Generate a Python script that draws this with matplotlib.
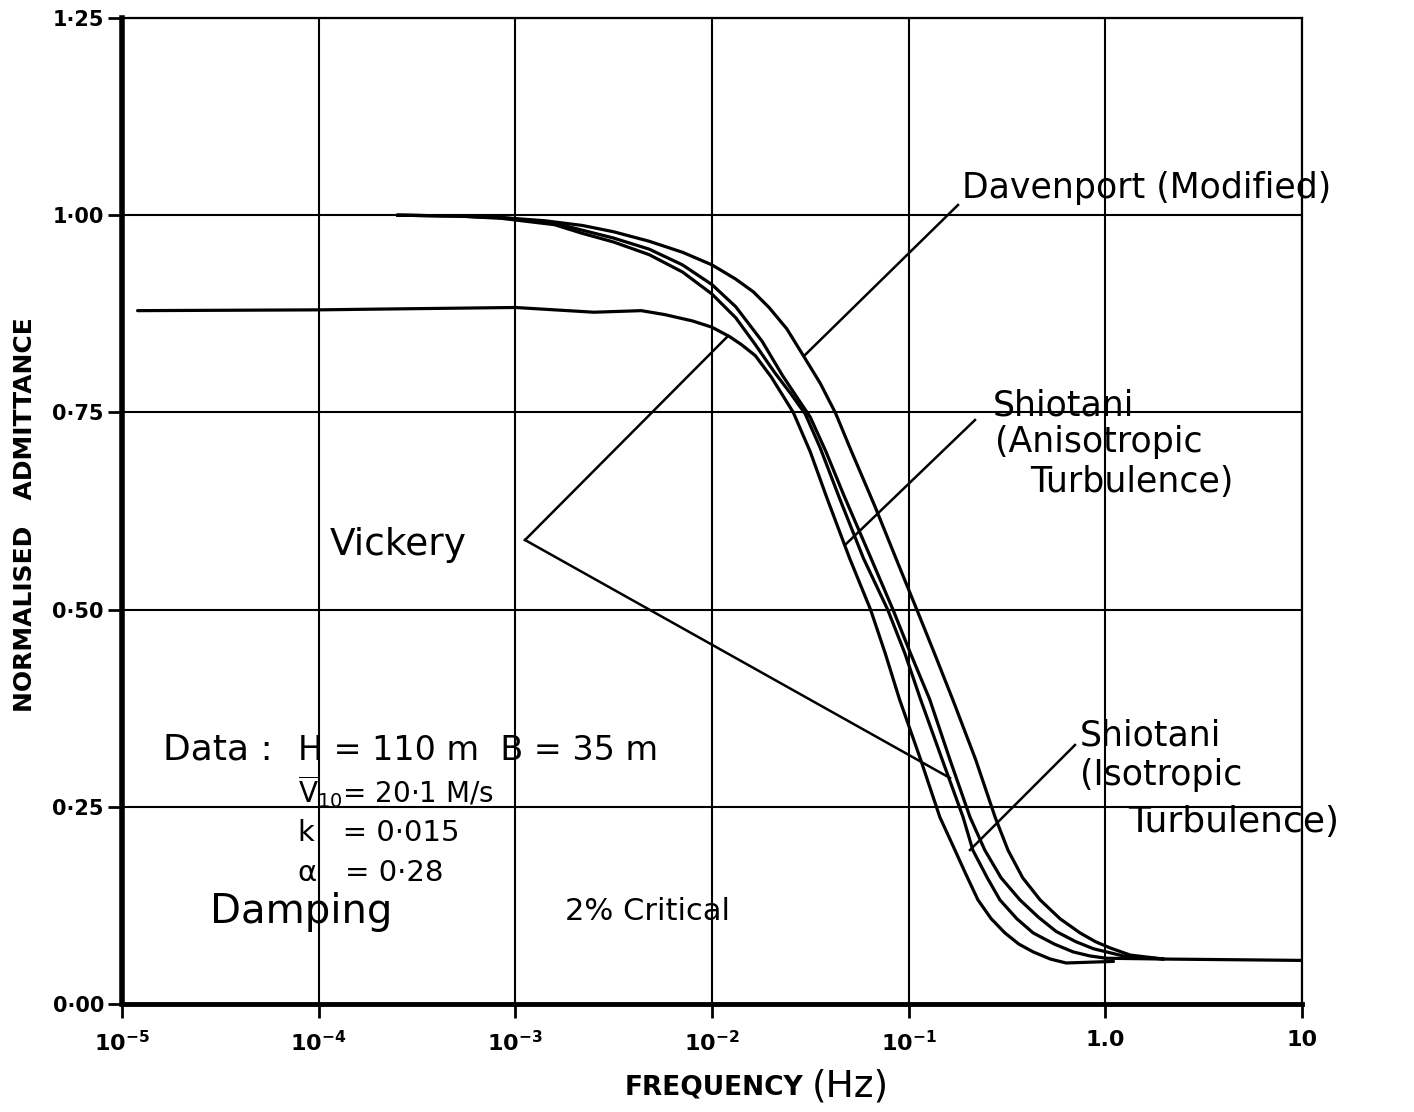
import matplotlib
matplotlib.use("Agg")
import matplotlib.pyplot as plt
from matplotlib.lines import Line2D

# ---------------- data ----------------
davenport_f = [2.51e-4, 5.01e-4, 8.51e-4, 1.41e-3, 2.19e-3, 3.16e-3, 4.79e-3, 7.08e-3, 1.0e-2,
               1.32e-2, 1.62e-2, 1.95e-2, 2.40e-2, 2.88e-2, 3.55e-2, 4.25e-2, 5.01e-2, 6.76e-2,
               8.91e-2, 0.110, 0.135, 0.1675, 0.219, 0.275, 0.320, 0.380, 0.466, 0.589, 0.745,
               0.891, 1.06, 1.34, 1.98, 12.9]
davenport_v = [1.0, 0.999, 0.997, 0.993, 0.987, 0.979, 0.967, 0.953, 0.937,
               0.919, 0.903, 0.883, 0.856, 0.824, 0.787, 0.749, 0.706, 0.630,
               0.556, 0.500, 0.445, 0.386, 0.310, 0.237, 0.195, 0.160, 0.132, 0.108, 0.090,
               0.079, 0.071, 0.062, 0.057, 0.055]

shiotani_aniso_f = [2.51e-4, 5.01e-4, 8.51e-4, 1.58e-3, 2.19e-3, 3.16e-3, 4.79e-3, 7.08e-3, 1.0e-2,
                    1.32e-2, 1.80e-2, 2.28e-2, 2.69e-2, 3.16e-2, 3.80e-2, 4.68e-2, 6.31e-2, 8.32e-2,
                    0.102, 0.128, 0.162, 0.205, 0.244, 0.295, 0.368, 0.457, 0.562, 0.708, 0.871,
                    1.23, 1.98]
shiotani_aniso_v = [1.0, 0.999, 0.997, 0.990, 0.981, 0.971, 0.957, 0.937, 0.912,
                    0.884, 0.840, 0.797, 0.770, 0.744, 0.700, 0.645, 0.570, 0.500,
                    0.445, 0.386, 0.310, 0.237, 0.195, 0.160, 0.132, 0.110, 0.092, 0.079, 0.070,
                    0.061, 0.057]

shiotani_iso_f = [2.51e-4, 5.01e-4, 8.51e-4, 1.58e-3, 2.19e-3, 3.16e-3, 4.79e-3, 7.08e-3, 1.0e-2,
                  1.32e-2, 1.66e-2, 2.09e-2, 2.51e-2, 2.98e-2, 3.55e-2, 4.47e-2, 5.89e-2, 7.82e-2,
                  9.55e-2, 0.115, 0.148, 0.189, 0.212, 0.251, 0.291, 0.355, 0.430, 0.550, 0.687,
                  0.832, 1.01, 1.98]
shiotani_iso_v = [1.0, 0.999, 0.996, 0.988, 0.977, 0.966, 0.950, 0.928, 0.900,
                  0.870, 0.836, 0.800, 0.774, 0.748, 0.705, 0.640, 0.565, 0.500,
                  0.445, 0.386, 0.310, 0.237, 0.195, 0.160, 0.132, 0.108, 0.090, 0.076, 0.066,
                  0.061, 0.058, 0.057]

vickery_f = [1.2e-5, 1e-4, 2.09e-4, 1e-3, 2.51e-3, 4.37e-3, 5.75e-3, 7.94e-3, 1e-2, 1.23e-2,
             1.41e-2, 1.66e-2, 2.0e-2, 2.59e-2, 3.16e-2, 3.86e-2, 5.01e-2, 6.4e-2, 7.59e-2,
             8.99e-2, 0.115, 0.144, 0.172, 0.195, 0.225, 0.263, 0.309, 0.363, 0.430, 0.525,
             0.632, 1.10]
vickery_v = [0.879, 0.880, 0.881, 0.883, 0.877, 0.879, 0.874, 0.866, 0.858, 0.846,
             0.836, 0.822, 0.795, 0.750, 0.700, 0.640, 0.565, 0.500, 0.445,
             0.386, 0.310, 0.237, 0.195, 0.165, 0.132, 0.108, 0.090, 0.076, 0.066, 0.057,
             0.052, 0.054]

x_ticks = [1e-5, 1e-4, 1e-3, 1e-2, 1e-1, 1.0, 10.0]
x_tick_labels = [r"$10^{-5}$", r"$10^{-4}$", r"$10^{-3}$", r"$10^{-2}$", r"$10^{-1}$", "1.0", "10"]
y_ticks = [0.0, 0.25, 0.50, 0.75, 1.00, 1.25]
y_tick_labels = ["0·00", "0·25", "0·50", "0·75", "1·00", "1·25"]

# ---------------- figure ----------------
plt.rcParams["mathtext.default"] = "bf"
W, H = 1414, 1112
fig = plt.figure(figsize=(W / 100, H / 100), dpi=100)
ax = fig.add_axes([122 / W, 1 - 1004 / H, (1302 - 122) / W, (1004 - 18) / H])

ax.set_xscale("log")
ax.set_xlim(1e-5, 10)
ax.set_ylim(0, 1.25)

ax.grid(True, which="major", color="black", linewidth=1.5)
ax.minorticks_off()
ax.set_axisbelow(True)

for f, v in [(davenport_f, davenport_v), (shiotani_aniso_f, shiotani_aniso_v),
             (shiotani_iso_f, shiotani_iso_v), (vickery_f, vickery_v)]:
    ax.plot(f, v, color="black", linewidth=2.3, solid_capstyle="round",
            solid_joinstyle="round", zorder=3)

ax.set_xticks(x_ticks)
ax.set_xticklabels(x_tick_labels, fontsize=16, fontweight="bold")
ax.set_yticks(y_ticks)
ax.set_yticklabels(y_tick_labels, fontsize=15, fontweight="bold")
ax.tick_params(axis="both", direction="out", length=10, width=2, color="black")
ax.tick_params(axis="x", pad=9)
ax.tick_params(axis="y", pad=3)

ax.spines["left"].set_linewidth(4)
ax.spines["bottom"].set_linewidth(3.5)
ax.spines["top"].set_linewidth(1.6)
ax.spines["right"].set_linewidth(1.6)

fig.text(25 / W, 1 - 515 / H, "NORMALISED   ADMITTANCE", rotation=90, ha="center", va="center",
         fontsize=18, fontweight="bold")
fig.text(625 / W, 1 - 1088 / H, "FREQUENCY", ha="left", va="center",
         fontsize=19, fontweight="bold")
fig.text(812 / W, 1 - 1086 / H, "(Hz)", ha="left", va="center", fontsize=27)

# ---------------- annotations ----------------
def P(x, y):
    return (x / W, 1 - y / H)

hand = dict(fontsize=25, family="DejaVu Sans", color="black", va="center", ha="left")

def txt(x, y, s, **kw):
    d = dict(hand)
    d.update(kw)
    fig.text(*P(x, y), s, **d)

def seg(x0, y0, x1, y1):
    (a0, b0), (a1, b1) = P(x0, y0), P(x1, y1)
    fig.add_artist(Line2D([a0, a1], [b0, b1], transform=fig.transFigure,
                          color="black", linewidth=1.8))

txt(962, 188, "Davenport (Modified)")
seg(958, 205, 805, 355)

txt(993, 405, "Shiotani")
txt(995, 442, "(Anisotropic")
txt(1030, 482, "Turbulence)")
seg(975, 420, 845, 545)

txt(330, 545, "Vickery", fontsize=27)
seg(525, 540, 728, 336)
seg(525, 540, 950, 778)

txt(1080, 735, "Shiotani")
txt(1080, 775, "(Isotropic")
txt(1128, 822, "Turbulence)", fontsize=26)
seg(1075, 745, 970, 850)

txt(163, 750, "Data :", fontsize=26)
txt(298, 750, "H = 110 m  B = 35 m", fontsize=24)
txt(298, 792, r"$\overline{\mathrm{V}}_{\mathrm{10}}$= 20·1 M/s", fontsize=20)
txt(298, 833, "k   = 0·015", fontsize=21)
txt(298, 873, "α   = 0·28", fontsize=21)
txt(210, 912, "Damping", fontsize=29)
txt(565, 912, "2% Critical", fontsize=22)

fig.savefig("out.png", dpi=100)
